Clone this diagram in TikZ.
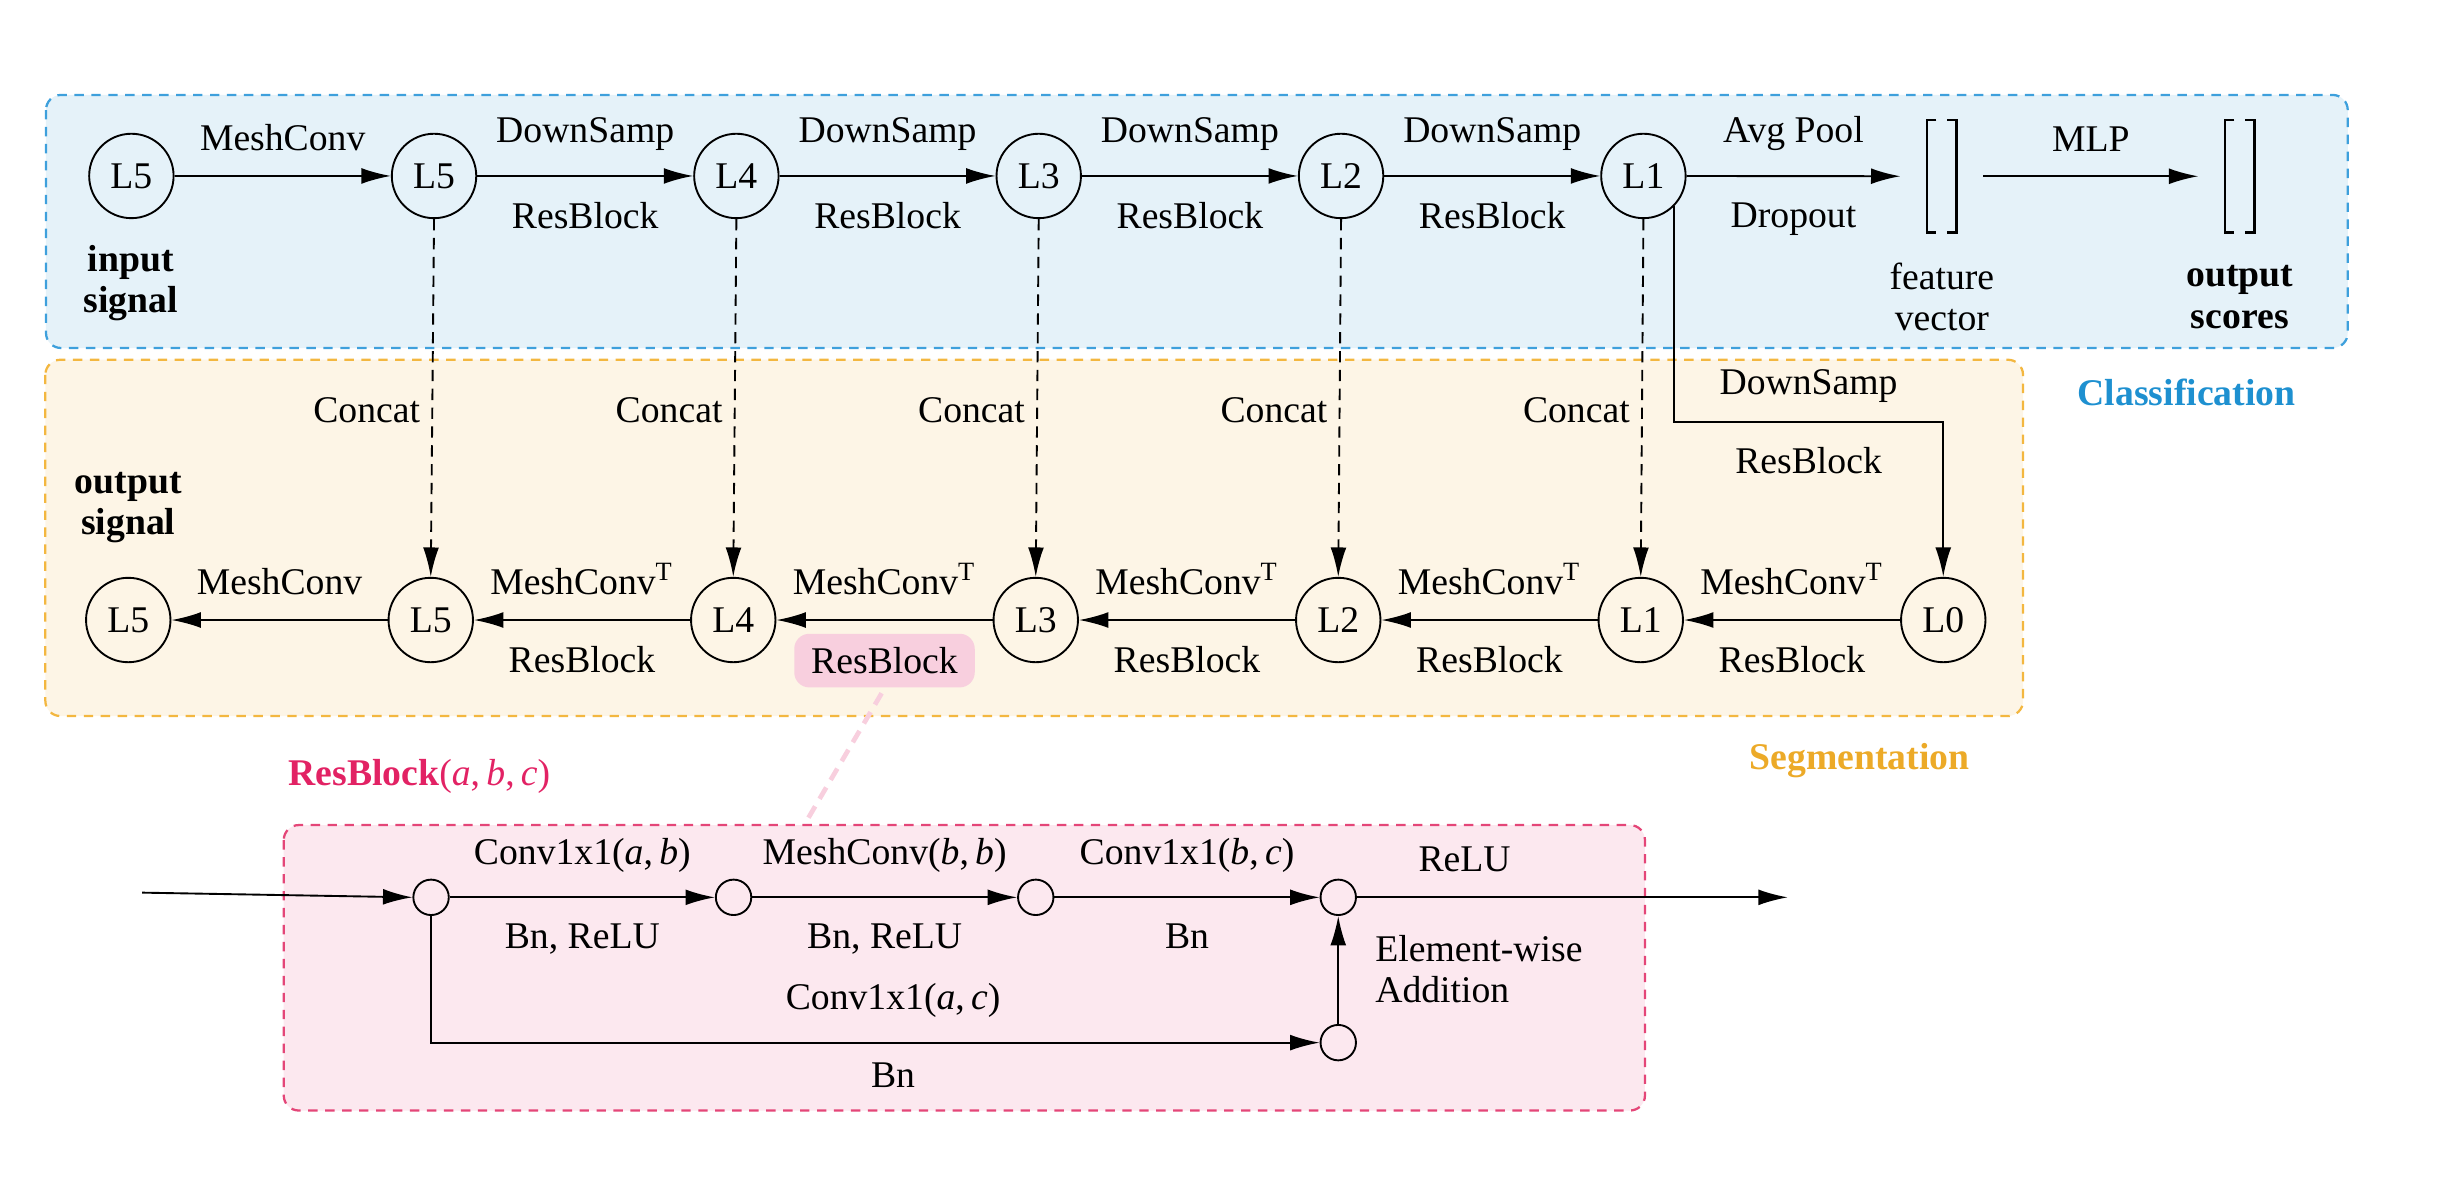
\documentclass[tikz,border=0pt]{standalone}
\usepackage{fontspec}
\setmainfont{Liberation Serif}
\usetikzlibrary{arrows.meta,calc}
\definecolor{cblueb}{RGB}{62,160,220}
\definecolor{cbluef}{RGB}{229,242,249}
\definecolor{cbluet}{RGB}{30,144,208}
\definecolor{corangeb}{RGB}{243,183,64}
\definecolor{corangef}{RGB}{253,245,230}
\definecolor{coranget}{RGB}{236,170,40}
\definecolor{cpinkb}{RGB}{228,70,120}
\definecolor{cpinkf}{RGB}{252,232,239}
\definecolor{cpinkt}{RGB}{226,34,100}
\definecolor{cpinkh}{RGB}{248,207,222}
\tikzset{
  lvl/.style={circle, draw, line width=0.5pt, minimum size=22.4pt, inner sep=0pt},
  sm/.style={circle, draw, line width=0.5pt, minimum size=9.4pt, inner sep=0pt},
  arr/.style={-{Latex[length=7.8pt,width=4.2pt]}, line width=0.5pt},
  dsh/.style={arr, dash pattern=on 3pt off 2pt},
  ab/.style={above=6.4pt, inner sep=0pt},
  be/.style={below=6.8pt, inner sep=0pt},
  lab/.style={inner sep=0pt},
  brk/.style={line width=0.7pt},
  bxblue/.style={draw=cblueb, fill=cbluef, line width=0.6pt, dash pattern=on 2.5pt off 2pt, rounded corners=4pt},
  bxorange/.style={draw=corangeb, fill=corangef, line width=0.6pt, dash pattern=on 2.5pt off 2pt, rounded corners=4pt},
  bxpink/.style={draw=cpinkb, fill=cpinkf, line width=0.6pt, dash pattern=on 2.5pt off 2pt, rounded corners=4pt},
  vec/.style={minimum width=22pt, minimum height=29.9pt, inner sep=0pt, outer sep=0pt},
  multi/.style={align=center, inner sep=0pt},
}
\begin{document}
\begin{tikzpicture}[x=0.415pt,y=-0.415pt]
\useasboundingbox (0,0) rectangle (1560,768.5);

% background boxes
\draw[bxblue] (29.4,60.7) rectangle (1501,222.5);
\draw[bxorange] (29,230) rectangle (1293.4,457.8);
\draw[bxpink] (181.4,527.5) rectangle (1051.7,710);

% section titles
\node[lab, text=cbluet, font=\bfseries] (tcls) at (1398,251) {Classification};
\node[lab, text=coranget, font=\bfseries] (tseg) at (1189,486) {Segmentation};
\node[lab, anchor=west, text=cpinkt] (trb) at (184,496.6) {\textbf{ResBlock}(\textit{a},\,\textit{b},\,\textit{c})};

% top row
\node[lvl] (t0) at (84,112.5) {L5};
\node[lvl] (t1) at (277.5,112.5) {L5};
\node[lvl] (t2) at (470.8,112.5) {L4};
\node[lvl] (t3) at (664.1,112.5) {L3};
\node[lvl] (t4) at (857.4,112.5) {L2};
\node[lvl] (t5) at (1050.7,112.5) {L1};
\node[vec] (fv) at (1241.5,112.7) {};
\node[vec] (os) at (1432,112.7) {};

\node[multi, font=\bfseries] (insig) at (83.6,181) {input\\[-1pt]signal};
\node[multi] (fvt) at (1241.5,190) {feature\\[-1pt]vector};
\node[multi, font=\bfseries] (ost) at (1432,190) {output\\[-1pt]scores};

% brackets
\draw[brk] ($(fv.north west)+(23,0)$) -- ($(fv.north west)+(17,0)$) -- ($(fv.south west)+(17,0)$) -- ($(fv.south west)+(23,0)$);
\draw[brk] ($(fv.north east)+(-23,0)$) -- ($(fv.north east)+(-17,0)$) -- ($(fv.south east)+(-17,0)$) -- ($(fv.south east)+(-23,0)$);
\draw[brk] ($(os.north west)+(23,0)$) -- ($(os.north west)+(17,0)$) -- ($(os.south west)+(17,0)$) -- ($(os.south west)+(23,0)$);
\draw[brk] ($(os.north east)+(-23,0)$) -- ($(os.north east)+(-17,0)$) -- ($(os.south east)+(-17,0)$) -- ($(os.south east)+(-23,0)$);

\draw[arr] (t0) -- node[ab]{MeshConv} (t1);
\draw[arr] (t1) -- node[ab]{DownSamp} node[be]{ResBlock} (t2);
\draw[arr] (t2) -- node[ab]{DownSamp} node[be]{ResBlock} (t3);
\draw[arr] (t3) -- node[ab]{DownSamp} node[be]{ResBlock} (t4);
\draw[arr] (t4) -- node[ab]{DownSamp} node[be]{ResBlock} (t5);
\draw[arr] (t5) -- node[ab]{Avg Pool} node[be]{Dropout} (fv);
\draw[arr] (fv) -- node[ab]{MLP} (os);

% bottom row
\node[lvl] (b0) at (82,396.4) {L5};
\node[lvl] (b1) at (275.4,396.4) {L5};
\node[lvl] (b2) at (468.8,396.4) {L4};
\node[lvl] (b3) at (662.2,396.4) {L3};
\node[lvl] (b4) at (855.6,396.4) {L2};
\node[lvl] (b5) at (1049,396.4) {L1};
\node[lvl] (b6) at (1242.4,396.4) {L0};

\node[multi, font=\bfseries] (outsig) at (82,324.5) {output\\[-1pt]signal};

\draw[arr] (b1) -- node[ab]{MeshConv} (b0);
\draw[arr] (b2) -- node[ab]{MeshConv\textsuperscript{T}} node[be]{ResBlock} (b1);
\draw[arr] (b3) -- node[ab]{MeshConv\textsuperscript{T}} node[midway, below=3.4pt, fill=cpinkh, rounded corners=4pt, inner xsep=4.5pt, inner ysep=3.6pt] (hl) {ResBlock} (b2);
\draw[arr] (b4) -- node[ab]{MeshConv\textsuperscript{T}} node[be]{ResBlock} (b3);
\draw[arr] (b5) -- node[ab]{MeshConv\textsuperscript{T}} node[be]{ResBlock} (b4);
\draw[arr] (b6) -- node[ab]{MeshConv\textsuperscript{T}} node[be]{ResBlock} (b5);

% skip (concat) connections
\draw[dsh] (t1.south) -- node[pos=0.533, left=3pt, lab]{Concat} (b1.north);
\draw[dsh] (t2.south) -- node[pos=0.533, left=3pt, lab]{Concat} (b2.north);
\draw[dsh] (t3.south) -- node[pos=0.533, left=3pt, lab]{Concat} (b3.north);
\draw[dsh] (t4.south) -- node[pos=0.533, left=3pt, lab]{Concat} (b4.north);
\draw[dsh] (t5.south) -- node[pos=0.533, left=3pt, lab]{Concat} (b5.north);

% L1 -> L0
\coordinate (k1) at (t5.-45 |- 0,270);
\draw[arr] (t5.-45) -- (k1) -- node[above=5pt, lab]{DownSamp} node[below=6.3pt, lab]{ResBlock} (k1 -| b6.north) -- (b6.north);

% ResBlock detail
\coordinate (rbt) at (515,526);
\draw[cpinkh, line width=1.25pt, dash pattern=on 3.5pt off 2.3pt, shorten <=1.5pt] (hl.south) -- (rbt);

\node[sm] (c1) at (275.6,573.7) {};
\node[sm] (c2) at (469,573.7) {};
\node[sm] (c3) at (662.2,573.7) {};
\node[sm] (c4) at (855.6,573.7) {};
\node[sm] (c5) at (855.6,666.6) {};
\coordinate (inp) at (90.8,570.7);
\coordinate (outp) at (1143,573.7);

\draw[arr] (inp) -- (c1.west);
\draw[arr] (c1) -- node[ab]{Conv1x1(\textit{a},\,\textit{b})} node[be]{Bn, ReLU} (c2);
\draw[arr] (c2) -- node[ab]{MeshConv(\textit{b},\,\textit{b})} node[be]{Bn, ReLU} (c3);
\draw[arr] (c3) -- node[ab]{Conv1x1(\textit{b},\,\textit{c})} node[be]{Bn} (c4);
\draw[arr] (c4) -- node[pos=0.25, ab]{ReLU} (outp);
\draw[arr] (c1.south) |- node[pos=0.76, ab]{Conv1x1(\textit{a},\,\textit{c})} node[pos=0.76, below=5.2pt, lab]{Bn} (c5.west);
\draw[arr] (c5) -- (c4);
\node[anchor=west, align=left, inner sep=0pt] (ew) at (878.8,619.5) {Element-wise\\[-1pt]Addition};
\end{tikzpicture}
\end{document}
